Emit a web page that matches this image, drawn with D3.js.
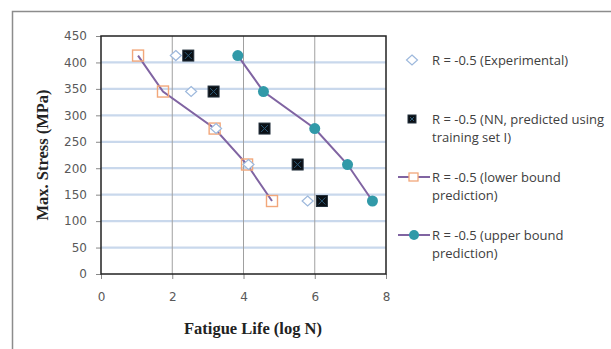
<!DOCTYPE html>
<html>
<head>
<meta charset="utf-8">
<script src="https://cdn.jsdelivr.net/npm/d3@7"></script>
<style>
  body { margin: 0; background: #fff; }
  svg { display: block; }
</style>
</head>
<body>
<div id="chart"></div>
<script>
// stress levels (MPa), shared by every series
var stress = [413, 345, 275, 207, 138];

// fatigue life (log N)
var expLife   = [2.10, 2.53, 3.23, 4.14, 5.80];
var nnLife    = [2.45, 3.16, 4.59, 5.52, 6.20];
var lowerLife = [1.04, 1.74, 3.19, 4.10, 4.80];
var upperLife = [3.84, 4.56, 6.00, 6.92, 7.62];

var xTicks = [0, 2, 4, 6, 8];
var yTicks = [0, 50, 100, 150, 200, 250, 300, 350, 400, 450];

var legendLabels = [
    ["R = -0.5 (Experimental)"],
    ["R = -0.5 (NN, predicted using", "training set I)"],
    ["R = -0.5 (lower bound", "prediction)"],
    ["R = -0.5 (upper bound", "prediction)"]
];

var width = 611, height = 349;

var x = d3.scaleLinear().domain([0, 8]).range([101, 386]);
var y = d3.scaleLinear().domain([0, 450]).range([274, 36]);

var svg = d3.select("#chart").append("svg")
    .attr("width", width)
    .attr("height", height);

// outer frame
svg.append("path")
    .attr("d", "M12.5," + height + "V11.5H" + width)
    .attr("fill", "none")
    .attr("stroke", "#8c8c8c")
    .attr("stroke-width", 1.5);

// horizontal grid
svg.append("g")
    .selectAll("line")
    .data(yTicks.slice(1, -1))
    .enter().append("line")
    .attr("x1", x(0)).attr("x2", x(8))
    .attr("y1", function(d) { return y(d); })
    .attr("y2", function(d) { return y(d); })
    .attr("stroke", "#c9d8ec")
    .attr("stroke-width", 2.2);

// vertical grid
svg.append("g")
    .selectAll("line")
    .data(xTicks.slice(1, -1))
    .enter().append("line")
    .attr("x1", function(d) { return x(d); })
    .attr("x2", function(d) { return x(d); })
    .attr("y1", y(450)).attr("y2", y(0))
    .attr("stroke", "#a0a0a0")
    .attr("stroke-width", 1);

// axes
var yAxis = svg.append("g")
    .attr("transform", "translate(" + x(0) + ",0)")
    .call(d3.axisLeft(y).tickValues(yTicks).tickSize(5).tickSizeOuter(0));
var xAxis = svg.append("g")
    .attr("transform", "translate(0," + y(0) + ")")
    .call(d3.axisBottom(x).tickValues(xTicks).tickSize(5).tickSizeOuter(0));

[yAxis, xAxis].forEach(function(a) {
    a.select(".domain").remove();
    a.selectAll(".tick line").attr("stroke", "#888");
    a.selectAll(".tick text")
        .attr("fill", "#595959")
        .style("font-family", "'DejaVu Sans', sans-serif")
        .style("font-size", "12px");
});
yAxis.selectAll(".tick text").attr("x", -14);
xAxis.selectAll(".tick text").attr("y", 18);

// plot border
svg.append("rect")
    .attr("x", x(0)).attr("y", y(450))
    .attr("width", x(8) - x(0)).attr("height", y(0) - y(450))
    .attr("fill", "none")
    .attr("stroke", "#222")
    .attr("stroke-width", 1.5);

// axis titles
svg.append("text")
    .attr("transform", "translate(48,155) rotate(-90)")
    .attr("text-anchor", "middle")
    .style("font-family", "'Liberation Serif', serif")
    .style("font-weight", "bold")
    .style("font-size", "16.5px")
    .attr("fill", "#222")
    .text("Max. Stress (MPa)");

svg.append("text")
    .attr("x", 253).attr("y", 334)
    .attr("text-anchor", "middle")
    .style("font-family", "'Liberation Serif', serif")
    .style("font-weight", "bold")
    .style("font-size", "16.5px")
    .attr("fill", "#222")
    .text("Fatigue Life (log N)");

var line = d3.line()
    .x(function(d) { return x(d[0]); })
    .y(function(d) { return y(d[1]); });

function pairs(life) {
    return life.map(function(v, i) { return [v, stress[i]]; });
}

// marker drawers
function diamond(g, cx, cy) {
    g.append("path")
        .attr("d", "M" + cx + "," + (cy - 5) + "L" + (cx + 5.5) + "," + cy +
                   "L" + cx + "," + (cy + 5) + "L" + (cx - 5.5) + "," + cy + "Z")
        .attr("fill", "#fff")
        .attr("stroke", "#9db8dc")
        .attr("stroke-width", 1.2);
}
function nnSquare(g, cx, cy, s) {
    g.append("rect")
        .attr("x", cx - s / 2).attr("y", cy - s / 2)
        .attr("width", s).attr("height", s)
        .attr("fill", "#0a0f14")
        .attr("stroke", "#23303c")
        .attr("stroke-width", 1);
    g.append("path")
        .attr("d", "M" + (cx - s / 2 + 2) + "," + (cy - s / 2 + 2) + "L" + (cx + s / 2 - 2) + "," + (cy + s / 2 - 2) +
                   "M" + (cx + s / 2 - 2) + "," + (cy - s / 2 + 2) + "L" + (cx - s / 2 + 2) + "," + (cy + s / 2 - 2))
        .attr("stroke", "#2d5a78")
        .attr("stroke-width", 1);
}
function openSquare(g, cx, cy, s) {
    g.append("rect")
        .attr("x", cx - s / 2).attr("y", cy - s / 2)
        .attr("width", s).attr("height", s)
        .attr("fill", "none")
        .attr("stroke", "#f2a77a")
        .attr("stroke-width", 1.4);
}
function dot(g, cx, cy, r) {
    g.append("circle")
        .attr("cx", cx).attr("cy", cy).attr("r", r)
        .attr("fill", "#3199a8");
}

// lower bound series
svg.append("path")
    .datum(pairs(lowerLife))
    .attr("d", line)
    .attr("fill", "none")
    .attr("stroke", "#8064a2")
    .attr("stroke-width", 2);
var gLow = svg.append("g");
pairs(lowerLife).forEach(function(d) { openSquare(gLow, x(d[0]), y(d[1]), 11); });

// upper bound series
svg.append("path")
    .datum(pairs(upperLife))
    .attr("d", line)
    .attr("fill", "none")
    .attr("stroke", "#8064a2")
    .attr("stroke-width", 2);
var gUp = svg.append("g");
pairs(upperLife).forEach(function(d) { dot(gUp, x(d[0]), y(d[1]), 5.5); });

// experimental
var gExp = svg.append("g");
pairs(expLife).forEach(function(d) { diamond(gExp, x(d[0]), y(d[1])); });

// NN predicted
var gNN = svg.append("g");
pairs(nnLife).forEach(function(d) { nnSquare(gNN, x(d[0]), y(d[1]), 11); });

// legend
var legendY = [60, 119, 177, 235];
var lg = svg.append("g");
legendLabels.forEach(function(lines, i) {
    var cy = legendY[i];
    if (i == 0) diamond(lg, 412, cy);
    if (i == 1) nnSquare(lg, 412, cy, 8);
    if (i == 2 || i == 3) {
        lg.append("line")
            .attr("x1", 398).attr("x2", 430)
            .attr("y1", cy).attr("y2", cy)
            .attr("stroke", "#8064a2")
            .attr("stroke-width", 2);
        if (i == 2) {
            lg.append("rect")
                .attr("x", 409).attr("y", cy - 4).attr("width", 9).attr("height", 8)
                .attr("fill", "#fff").attr("stroke", "#f2a77a").attr("stroke-width", 1.3);
        } else {
            dot(lg, 414, cy, 5);
        }
    }
    var t = lg.append("text")
        .attr("x", 432).attr("y", cy + 4.5)
        .attr("fill", "#404040")
        .style("font-family", "'Open Sans', sans-serif")
        .style("font-size", "13px");
    lines.forEach(function(s, j) {
        t.append("tspan")
            .attr("x", 432)
            .attr("dy", j == 0 ? 0 : 18)
            .text(s);
    });
});
</script>
</body>
</html>
